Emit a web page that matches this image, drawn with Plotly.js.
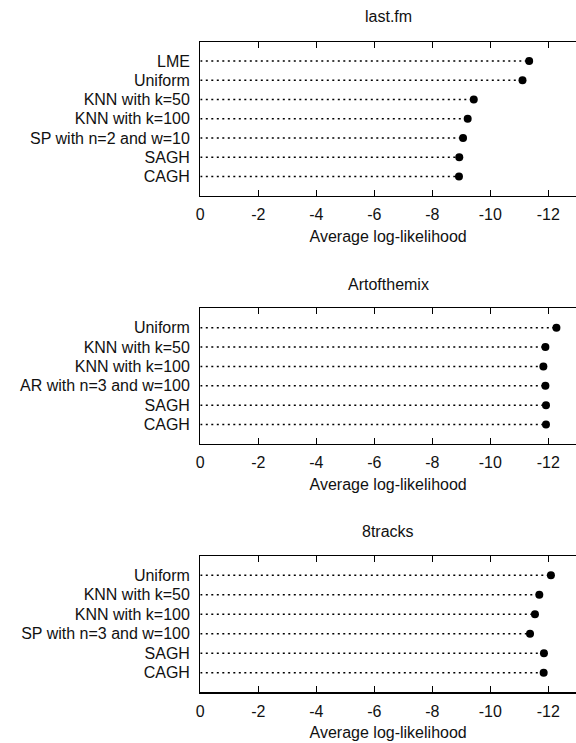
<!DOCTYPE html>
<html><head><meta charset="utf-8">
<script src="https://cdn.plot.ly/plotly-3.0.1.min.js"></script>
<style>html,body{margin:0;padding:0;background:#fff}</style>
</head><body><div id="chart" style="width:576px;height:743px"></div>
<script>
// ---- data ----
const lastfmMethods = ["LME", "Uniform", "KNN with k=50", "KNN with k=100", "SP with n=2 and w=10", "SAGH", "CAGH"];
const lastfmValues = [-11.34, -11.11, -9.43, -9.22, -9.06, -8.93, -8.92];

const artMethods = ["Uniform", "KNN with k=50", "KNN with k=100", "AR with n=3 and w=100", "SAGH", "CAGH"];
const artValues = [-12.28, -11.90, -11.83, -11.90, -11.92, -11.92];

const tracksMethods = ["Uniform", "KNN with k=50", "KNN with k=100", "SP with n=3 and w=100", "SAGH", "CAGH"];
const tracksValues = [-12.09, -11.69, -11.54, -11.37, -11.85, -11.84];

const panelTitles = ["last.fm", "Artofthemix", "8tracks"];
const xTickVals = [0, -2, -4, -6, -8, -10, -12];
const xTickText = ["0", "-2", "-4", "-6", "-8", "-10", "-12"];
const xAxisTitle = "Average log-likelihood";

// ---- build ----
const FONT = {family: "Liberation Sans, Arial, Helvetica, sans-serif", size: 16, color: "#111"};
function makeTraces(methods, values, xa, ya) {
  const lx = [], ly = [];
  methods.forEach((m, i) => { lx.push(0, values[i], null); ly.push(m, m, null); });
  return [
    {type: "scatter", mode: "lines", x: lx, y: ly, xaxis: xa, yaxis: ya,
     line: {color: "#000", width: 1.5, dash: "2px,3.5px"}, hoverinfo: "skip", showlegend: false},
    {type: "scatter", mode: "markers", x: values, y: methods, xaxis: xa, yaxis: ya,
     marker: {color: "#000", size: 8}, showlegend: false, cliponaxis: false}
  ];
}
const data = [].concat(
  makeTraces(lastfmMethods, lastfmValues, "x", "y"),
  makeTraces(artMethods, artValues, "x2", "y2"),
  makeTraces(tracksMethods, tracksValues, "x3", "y3")
);

const H = 743;
const xDom = [200.3 / 576, 1];
function yDom(top, bottom) { return [1 - bottom / H, 1 - top / H]; }
function xAxis(anchor) {
  return {anchor: anchor, domain: xDom, range: [0, -12.955], tickvals: xTickVals, ticktext: xTickText,
    ticks: "inside", ticklen: 6, tickwidth: 1.2, tickcolor: "#000", showline: true, linecolor: "#000",
    linewidth: 1.2, mirror: "ticks", showgrid: false, zeroline: false, tickfont: FONT,
    ticklabelstandoff: 4,
    title: {text: xAxisTitle, font: FONT, standoff: 8}, fixedrange: true};
}
function yAxis(anchor, dom, n, cats) {
  return {anchor: anchor, domain: dom, type: "category", categoryarray: cats, categoryorder: "array",
    range: [n, -1], showline: true, linecolor: "#000", linewidth: 1.2, ticks: "", showgrid: false,
    zeroline: false, tickfont: FONT, ticklabelstandoff: 6, fixedrange: true};
}
const titleY = [16, 284, 531];
const layout = {
  width: 576, height: 743, margin: {l: 0, r: 0, t: 0, b: 0},
  paper_bgcolor: "#fff", plot_bgcolor: "#fff", font: FONT, showlegend: false,
  xaxis: xAxis("y"), yaxis: yAxis("x", yDom(41.7, 195.7), 7, lastfmMethods),
  xaxis2: xAxis("y2"), yaxis2: yAxis("x2", yDom(308.3, 444), 6, artMethods),
  xaxis3: xAxis("y3"), yaxis3: yAxis("x3", yDom(555.7, 692.3), 6, tracksMethods),
  annotations: panelTitles.map((t, i) => ({text: t, xref: "paper", yref: "paper", x: 388 / 576,
    y: 1 - titleY[i] / H, xanchor: "center", yanchor: "middle", showarrow: false, font: FONT}))
};
Plotly.newPlot("chart", data, layout, {displayModeBar: false, staticPlot: true});
</script></body></html>
